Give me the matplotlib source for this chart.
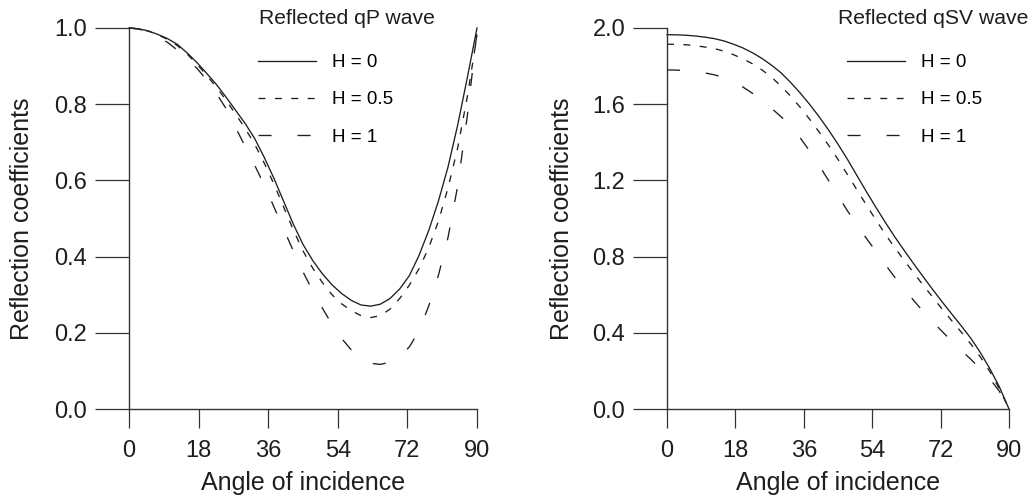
import numpy as np
import matplotlib
matplotlib.use("Agg")
import matplotlib.pyplot as plt

# angle of incidence (degrees), every 2.5
angles = [0, 2.5, 5, 7.5, 10, 12.5, 15, 17.5, 20, 22.5, 25, 27.5, 30, 32.5, 35, 37.5,
          40, 42.5, 45, 47.5, 50, 52.5, 55, 57.5, 60, 62.5, 65, 67.5, 70, 72.5, 75,
          77.5, 80, 82.5, 85, 87.5, 90]

# reflected qP wave
qp_h0 = [1.0, 0.998, 0.992, 0.983, 0.972, 0.957, 0.935, 0.91, 0.882, 0.853, 0.82,
         0.785, 0.75, 0.71, 0.66, 0.605, 0.545, 0.485, 0.432, 0.39, 0.355, 0.326,
         0.303, 0.285, 0.273, 0.27, 0.275, 0.29, 0.315, 0.35, 0.403, 0.468, 0.545,
         0.635, 0.745, 0.87, 1.0]
qp_h05 = [1.0, 0.998, 0.992, 0.982, 0.97, 0.954, 0.932, 0.906, 0.877, 0.846, 0.812,
          0.775, 0.737, 0.695, 0.645, 0.59, 0.53, 0.47, 0.415, 0.37, 0.332, 0.3,
          0.276, 0.258, 0.245, 0.24, 0.245, 0.262, 0.29, 0.325, 0.368, 0.423, 0.492,
          0.58, 0.685, 0.82, 0.98]
qp_h1 = [1.0, 0.997, 0.99, 0.977, 0.962, 0.942, 0.92, 0.895, 0.865, 0.83, 0.79,
         0.74, 0.69, 0.64, 0.587, 0.53, 0.472, 0.415, 0.36, 0.31, 0.265, 0.222,
         0.185, 0.155, 0.132, 0.12, 0.117, 0.123, 0.137, 0.163, 0.205, 0.27, 0.35,
         0.45, 0.585, 0.77, 0.99]

# reflected qSV wave
qsv_h0 = [1.965, 1.964, 1.962, 1.958, 1.952, 1.944, 1.932, 1.915, 1.895, 1.87, 1.84,
          1.805, 1.765, 1.715, 1.66, 1.6, 1.535, 1.465, 1.39, 1.31, 1.225, 1.14,
          1.058, 0.978, 0.902, 0.83, 0.76, 0.692, 0.625, 0.56, 0.497, 0.435, 0.37,
          0.295, 0.21, 0.115, 0.0]
qsv_h05 = [1.915, 1.914, 1.912, 1.907, 1.9, 1.892, 1.878, 1.86, 1.838, 1.812, 1.78,
           1.742, 1.695, 1.643, 1.585, 1.522, 1.455, 1.385, 1.31, 1.23, 1.15, 1.07,
           0.992, 0.916, 0.845, 0.778, 0.712, 0.648, 0.585, 0.522, 0.462, 0.402,
           0.34, 0.272, 0.195, 0.105, 0.0]
qsv_h1 = [1.78, 1.779, 1.776, 1.771, 1.764, 1.754, 1.74, 1.72, 1.69, 1.657, 1.62,
          1.578, 1.535, 1.483, 1.425, 1.355, 1.28, 1.2, 1.12, 1.04, 0.965, 0.895,
          0.827, 0.757, 0.69, 0.628, 0.568, 0.51, 0.456, 0.405, 0.355, 0.307, 0.26,
          0.21, 0.157, 0.092, 0.0]

labels = ["H = 0", "H = 0.5", "H = 1"]
xticks = [0, 18, 36, 54, 72, 90]

plt.rcParams["font.family"] = ["Liberation Sans", "DejaVu Sans"]
plt.rcParams["lines.scale_dashes"] = False

ink = "#1e1e1e"
styles = [dict(linestyle="-"),
          dict(linestyle=(0, (5.0, 6.8))),
          dict(linestyle=(0, (9.4, 18.7)))]

fig = plt.figure(figsize=(10.32, 4.99), dpi=100)
ax1 = fig.add_axes([129 / 1032, 1 - 409 / 499, 348 / 1032, 381 / 499])
ax2 = fig.add_axes([667 / 1032, 1 - 409 / 499, 342 / 1032, 381 / 499])


def setup(ax, ymax, ystep):
    ax.set_xlim(0, 90)
    ax.set_ylim(0, ymax)
    ax.set_xticks(xticks)
    ax.set_yticks(np.arange(0, ymax + 1e-9, ystep))
    ax.yaxis.set_major_formatter(matplotlib.ticker.FormatStrFormatter("%.1f"))
    for s in ["top", "right"]:
        ax.spines[s].set_visible(False)
    for s in ["left", "bottom"]:
        ax.spines[s].set_linewidth(1.0)
        ax.spines[s].set_color("#333333")
    ax.tick_params(axis="y", length=24.5, width=0.9, pad=5.5, labelsize=17,
                   colors="#333333", labelcolor=ink)
    ax.tick_params(axis="x", length=13.7, width=0.9, pad=8.5, labelsize=17,
                   colors="#333333", labelcolor=ink)
    ax.set_xlabel("Angle of incidence", fontsize=18, color=ink)
    ax.set_ylabel("Reflection coefficients", fontsize=18, color=ink)
    ax.xaxis.set_label_coords(0.5, -0.163)


setup(ax1, 1.0, 0.2)
setup(ax2, 2.0, 0.4)
ax1.yaxis.set_label_coords(-0.274, 0.5)
ax2.yaxis.set_label_coords(-0.272, 0.5)

for ax, series in [(ax1, [qp_h0, qp_h05, qp_h1]), (ax2, [qsv_h0, qsv_h05, qsv_h1])]:
    for vals, st, lab in zip(series, styles, labels):
        ax.plot(angles, vals, color=ink, lw=0.95, label=lab, clip_on=False, **st)

for ax, x0 in [(ax1, 258), (ax2, 847)]:
    ax.legend(loc="upper left", bbox_to_anchor=(x0 / 1032, 1 - 54 / 499),
              bbox_transform=fig.transFigure, frameon=False, fontsize=13.6,
              handlelength=3.05, handletextpad=0.88, labelspacing=1.06,
              borderpad=0, borderaxespad=0)

fig.text(259 / 1032, 1 - 18 / 499, "Reflected qP wave", fontsize=15.2, color=ink,
         ha="left", va="center")
fig.text(838 / 1032, 1 - 18 / 499, "Reflected qSV wave", fontsize=15.2, color=ink,
         ha="left", va="center")

fig.savefig("out.png", dpi=100)
